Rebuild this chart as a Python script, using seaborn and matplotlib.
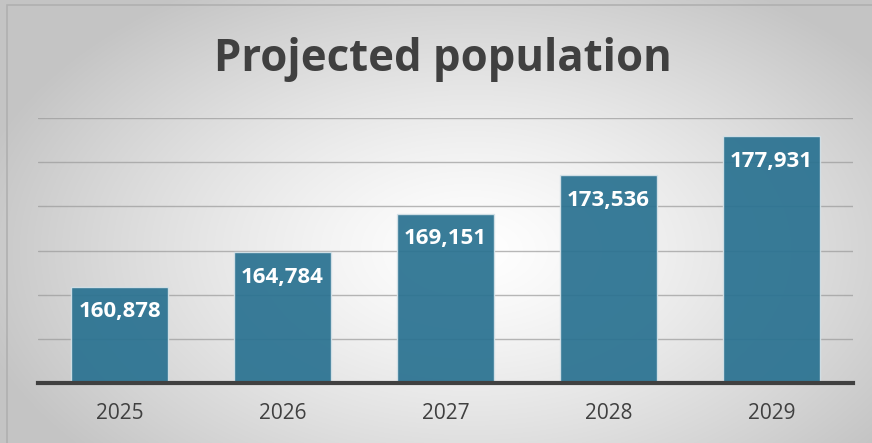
import numpy as np
import pandas as pd
import seaborn as sns
import matplotlib.pyplot as plt
from matplotlib.patches import Rectangle

# dados
years = ["2025", "2026", "2027", "2028", "2029"]
population = [160878, 164784, 169151, 173536, 177931]

df = pd.DataFrame({"Year": years, "Population": population})

sns.set_style("white")
plt.rcParams["font.family"] = ["Open Sans", "DejaVu Sans"]

fig = plt.figure(figsize=(8.72, 4.43), dpi=100)

# fundo com gradiente radial
bg = fig.add_axes([0, 0, 1, 1], zorder=0)
h, w = 443, 872
yy, xx = np.mgrid[0:h, 0:w]
cx, cy = 470, 250
r = np.sqrt(((xx - cx) / 560.0) ** 2 + ((yy - cy) / 340.0) ** 2)
g = np.clip(1.0 - 0.26 * r ** 1.3, 0.77, 1.0)
bg.imshow(np.dstack([g, g, g]), aspect="auto", extent=[0, 1, 0, 1])
bg.add_patch(Rectangle((0.008, -0.01), 1.1, 0.999, transform=bg.transAxes,
                       fill=False, edgecolor="#b0b0b0", linewidth=1.2))
bg.set_xlim(0, 1)
bg.set_ylim(0, 1)
bg.axis("off")

ax = fig.add_axes([0.0436, 0.1354, 0.9346, 0.5982], zorder=1)
ax.patch.set_alpha(0)

sns.barplot(data=df, x="Year", y="Population", ax=ax, color="#2a7291",
            saturation=1, alpha=0.93, width=0.6, edgecolor="#d5e2e8",
            linewidth=1, zorder=3)

ax.set_ylim(150000, 180000)
ax.set_yticks(range(150000, 180001, 5000))
ax.yaxis.grid(True, color="#9a9a9a", linewidth=1, alpha=0.7, zorder=0)
ax.set_axisbelow(True)
ax.tick_params(axis="y", left=False, labelleft=False)
ax.tick_params(axis="x", bottom=False, labelsize=15, labelcolor="#404040", pad=11)
ax.set_xlabel("")
ax.set_ylabel("")
for s in ["top", "right", "left"]:
    ax.spines[s].set_visible(False)
ax.spines["bottom"].set_color("#404040")
ax.spines["bottom"].set_linewidth(3)
ax.spines["bottom"].set_zorder(5)

for i, v in enumerate(population):
    ax.annotate(f"{v:,}", (i, v), xytext=(0, -25), textcoords="offset pixels",
                ha="center", va="center", color="white", fontsize=16,
                fontweight="bold", zorder=6)

fig.text(0.508, 0.865, "Projected population", ha="center", va="center",
         fontsize=31.5, fontweight="bold", color="#404040", zorder=2)

fig.savefig("out.png", dpi=100)
